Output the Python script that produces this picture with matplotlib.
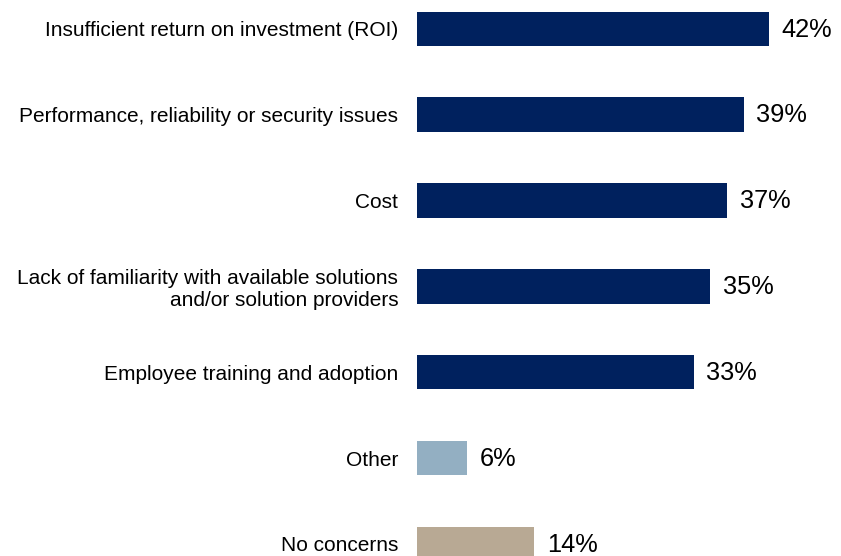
import matplotlib
matplotlib.use("Agg")
import matplotlib.pyplot as plt

categories = [
    "Insufficient return on investment (ROI)",
    "Performance, reliability or security issues",
    "Cost",
    "Lack of familiarity with available solutions\nand/or solution providers",
    "Employee training and adoption",
    "Other",
    "No concerns",
]
values = [42, 39, 37, 35, 33, 6, 14]
value_labels = ["42%", "39%", "37%", "35%", "33%", "6%", "14%"]
colors = ["#00215E", "#00215E", "#00215E", "#00215E", "#00215E", "#93AFC2", "#B8A994"]

plt.rcParams["font.family"] = ["Liberation Sans", "DejaVu Sans"]

W, H = 841, 556
fig = plt.figure(figsize=(W / 100, H / 100), dpi=100)
ax = fig.add_axes([417 / W, 0, 1 - 417 / W, 1])

ypos = list(range(len(categories)))
ax.barh(ypos, values, height=0.40, color=colors)
ax.set_xlim(0, (W - 417) / 8.38)
ax.set_ylim(6 + 0.14, -0.335)

for y, v, lab in zip(ypos, values, value_labels):
    ax.text(v + 1.5, y + 0.01, lab, va="center", ha="left", fontsize=18.3, color="#000000")

ax.set_yticks(ypos)
ax.set_yticklabels(categories, fontsize=15, color="#000000", linespacing=1.15)
ax.tick_params(axis="y", length=0, pad=13.5)
ax.set_xticks([])
for s in ax.spines.values():
    s.set_visible(False)

fig.savefig("out.png", dpi=100)
